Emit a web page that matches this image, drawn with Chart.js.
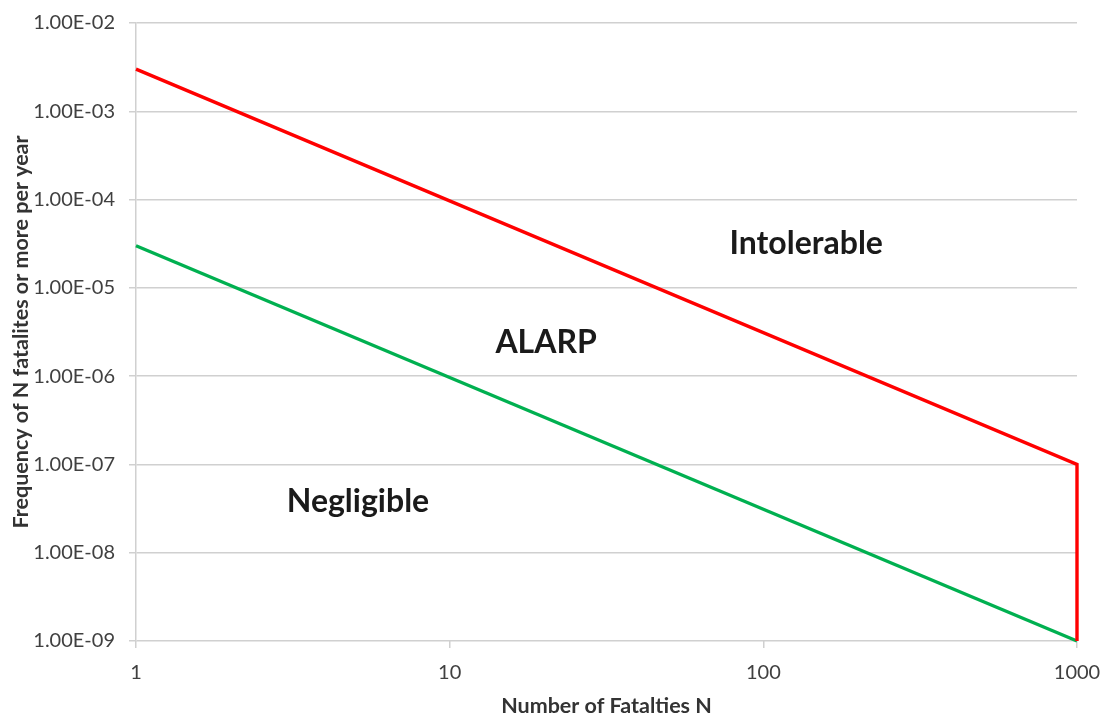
<!DOCTYPE html>
<html>
<head>
<meta charset="utf-8">
<script src="https://cdn.jsdelivr.net/npm/chart.js@4/dist/chart.umd.min.js"></script>
<style>
html,body{margin:0;padding:0;background:#fff;}
canvas{display:block;}
</style>
</head>
<body>
<canvas id="c" width="1107" height="715"></canvas>
<script>
// Data
const redX = [1, 1000, 1000];
const redY = [3e-3, 1e-7, 1e-9];
const greenX = [1, 1000];
const greenY = [3e-5, 1e-9];
const xTicks = [1, 10, 100, 1000];
const xTickLabels = ['1', '10', '100', '1000'];
const yTicks = [1e-9, 1e-8, 1e-7, 1e-6, 1e-5, 1e-4, 1e-3, 1e-2];
const yTickLabels = ['1.00E-09','1.00E-08','1.00E-07','1.00E-06','1.00E-05','1.00E-04','1.00E-03','1.00E-02'];
const regionLabels = ['Intolerable', 'ALARP', 'Negligible'];
const regionX = [137, 20.3, 5.1];
const regionY = [3.2e-5, 2.4e-6, 3.75e-8];

const FONT = 'Lato, "Open Sans", sans-serif';

const regionPlugin = {
  id: 'regionText',
  afterDatasetsDraw(chart) {
    const ctx = chart.ctx;
    const xs = chart.scales.x, ys = chart.scales.y;
    ctx.save();
    ctx.font = 'bold 32px ' + FONT;
    ctx.fillStyle = '#1a1a1a';
    ctx.textAlign = 'center';
    ctx.textBaseline = 'middle';
    regionLabels.forEach((t, i) => {
      ctx.fillText(t, xs.getPixelForValue(regionX[i]), ys.getPixelForValue(regionY[i]));
    });
    ctx.restore();
  }
};

const pts = (xa, ya) => xa.map((x, i) => ({x: x, y: ya[i]}));

new Chart(document.getElementById('c'), {
  type: 'scatter',
  data: {
    datasets: [
      {label: 'Tolerable limit', data: pts(redX, redY), showLine: true, borderColor: '#ff0000', borderWidth: 3.4, pointRadius: 0, tension: 0, fill: false, clip: false},
      {label: 'Negligible limit', data: pts(greenX, greenY), showLine: true, borderColor: '#00b050', borderWidth: 3.4, pointRadius: 0, tension: 0, fill: false, clip: false}
    ]
  },
  options: {
    responsive: false,
    animation: false,
    devicePixelRatio: 1,
    layout: {padding: {left: 8, right: 30, top: 23, bottom: 0}},
    plugins: {legend: {display: false}, tooltip: {enabled: false}},
    scales: {
      x: {
        type: 'logarithmic',
        min: 1, max: 1000,
        afterBuildTicks: s => { s.ticks = xTicks.map(v => ({value: v})); },
        afterFit: s => { s.height = 715 - 641; s.paddingLeft = 0; s.paddingRight = 0; },
        ticks: {
          callback: (v) => xTickLabels[xTicks.indexOf(v)],
          font: {family: FONT, size: 20}, color: '#404040', padding: 13, maxRotation: 0
        },
        grid: {drawOnChartArea: false, drawTicks: true, tickLength: 7, color: '#d0d0d0', lineWidth: 1.5},
        border: {display: false},
        title: {display: true, text: 'Number of Fatalties N', font: {family: FONT, size: 21.5, weight: 'bold', lineHeight: 0.8}, color: '#333', padding: {top: 0, bottom: 0}}
      },
      y: {
        type: 'logarithmic',
        min: 1e-9, max: 1e-2,
        afterBuildTicks: s => { s.ticks = yTicks.map(v => ({value: v})); },
        afterFit: s => { s.width = 136 - 8; s.paddingTop = 0; s.paddingBottom = 0; },
        ticks: {
          callback: (v) => { const i = yTicks.findIndex(t => Math.abs(Math.log10(t) - Math.log10(v)) < 1e-6); return yTickLabels[i]; },
          font: {family: FONT, size: 20}, color: '#404040', padding: 14
        },
        grid: {drawTicks: true, tickLength: 7, color: '#d0d0d0', lineWidth: 1.5},
        border: {display: true, color: '#d0d0d0', width: 1.5},
        title: {display: true, text: 'Frequency of N fatalites or more per year', font: {family: FONT, size: 21.5, weight: 'bold'}, color: '#333', padding: {top: 0, bottom: 0}}
      }
    }
  },
  plugins: [regionPlugin]
});
</script>
</body>
</html>
